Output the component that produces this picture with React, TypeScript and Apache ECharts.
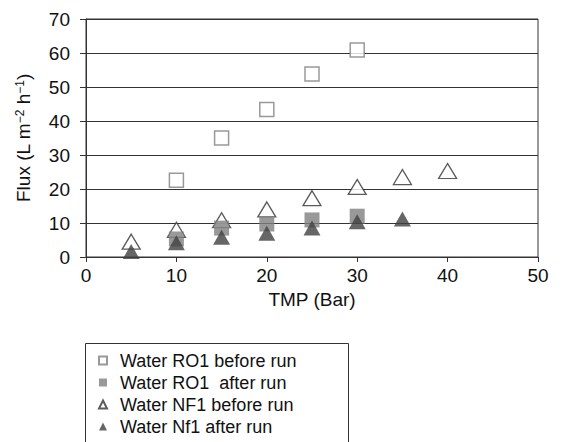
import React, { useEffect, useRef } from "react";
import * as echarts from "echarts";

const xTicks = [0, 10, 20, 30, 40, 50];
const roBeforeX = [10, 15, 20, 25, 30];
const roBeforeY = [22.6, 35, 43.4, 53.8, 60.9];
const roAfterX = [10, 15, 20, 25, 30];
const roAfterY = [5.3, 8.5, 9.7, 10.9, 12];
const nfBeforeX = [5, 10, 15, 20, 25, 30, 35, 40];
const nfBeforeY = [4.5, 8, 10.8, 14, 17.3, 20.6, 23.5, 25.3];
const nfAfterX = [5, 10, 15, 20, 25, 30, 35];
const nfAfterY = [1.6, 4.2, 5.8, 7, 8.5, 10.4, 11.2];

const names = [
  "Water RO1 before run",
  "Water RO1  after run",
  "Water NF1 before run",
  "Water Nf1 after run",
];

const zip = (xs: number[], ys: number[]) => xs.map((x, i) => [x, ys[i]]);

export default function App() {
  const ref = useRef<HTMLDivElement>(null);
  useEffect(() => {
    const chart = echarts.init(ref.current!, null, { renderer: "svg" });
    const font = "Liberation Sans, Arial, sans-serif";
    chart.setOption({
      animation: false,
      backgroundColor: "#fff",
      textStyle: { fontFamily: font },
      grid: {
        left: 86,
        right: 24,
        top: 19,
        bottom: 185,
        show: true,
        borderColor: "#333",
        borderWidth: 1,
        backgroundColor: "transparent",
      },
      xAxis: {
        type: "value",
        min: 0,
        max: 50,
        interval: 10,
        name: "TMP (Bar)",
        nameLocation: "middle",
        nameGap: 30,
        nameTextStyle: { fontSize: 19, color: "#111", fontFamily: font },
        axisLine: { show: true, lineStyle: { color: "#333", width: 1 } },
        axisTick: { show: true, inside: false, length: 5, lineStyle: { color: "#333" } },
        axisLabel: {
          fontSize: 19,
          color: "#111",
          margin: 9,
          fontFamily: font,
          customValues: xTicks,
        },
        splitLine: { show: false },
      },
      yAxis: {
        type: "value",
        min: 0,
        max: 70,
        interval: 10,
        name: "Flux (L m{sup|−2} h{sup|−1})",
        nameLocation: "middle",
        nameGap: 53,
        nameTextStyle: {
          fontSize: 19,
          color: "#111",
          fontFamily: font,
          rich: {
            sup: { fontSize: 12, verticalAlign: "top", color: "#111", fontFamily: font },
          },
        },
        axisLine: { show: true, lineStyle: { color: "#333", width: 1 } },
        axisTick: { show: true, inside: false, length: 6, lineStyle: { color: "#333" } },
        axisLabel: { fontSize: 19, color: "#111", margin: 16, fontFamily: font },
        splitLine: { show: true, lineStyle: { color: "#333", width: 1 } },
      },
      legend: {
        orient: "vertical",
        left: 98,
        top: 351,
        padding: 0,
        itemWidth: 8,
        itemHeight: 8,
        itemGap: 3,
        data: names,
        textStyle: {
          fontSize: 18,
          color: "#111",
          fontFamily: font,
          lineHeight: 19,
          padding: [0, 0, 0, 8],
        },
      },
      graphic: [
        {
          type: "rect",
          shape: { x: 85.5, y: 343.5, width: 263, height: 120 },
          style: { fill: "none", stroke: "#333", lineWidth: 1 },
          silent: true,
        },
      ],
      series: [
        {
          name: names[0],
          type: "scatter",
          data: zip(roBeforeX, roBeforeY),
          symbol: "rect",
          symbolSize: 14,
          itemStyle: { color: "#fff", borderColor: "#808080", borderWidth: 1.5 },
          z: 2,
        },
        {
          name: names[2],
          type: "scatter",
          data: zip(nfBeforeX, nfBeforeY),
          symbol: "triangle",
          symbolSize: [18, 15],
          itemStyle: { color: "#fff", borderColor: "#333", borderWidth: 1.3 },
          z: 3,
        },
        {
          name: names[1],
          type: "scatter",
          data: zip(roAfterX, roAfterY),
          symbol: "rect",
          symbolSize: 15,
          itemStyle: { color: "#808080" },
          z: 4,
        },
        {
          name: names[3],
          type: "scatter",
          data: zip(nfAfterX, nfAfterY),
          symbol: "triangle",
          symbolSize: [17, 15],
          itemStyle: { color: "#404040" },
          z: 5,
        },
      ],
    });
    return () => chart.dispose();
  }, []);
  return (
    <div
      ref={ref}
      style={{ position: "absolute", left: 0, top: 0, width: 562, height: 442 }}
    />
  );
}
